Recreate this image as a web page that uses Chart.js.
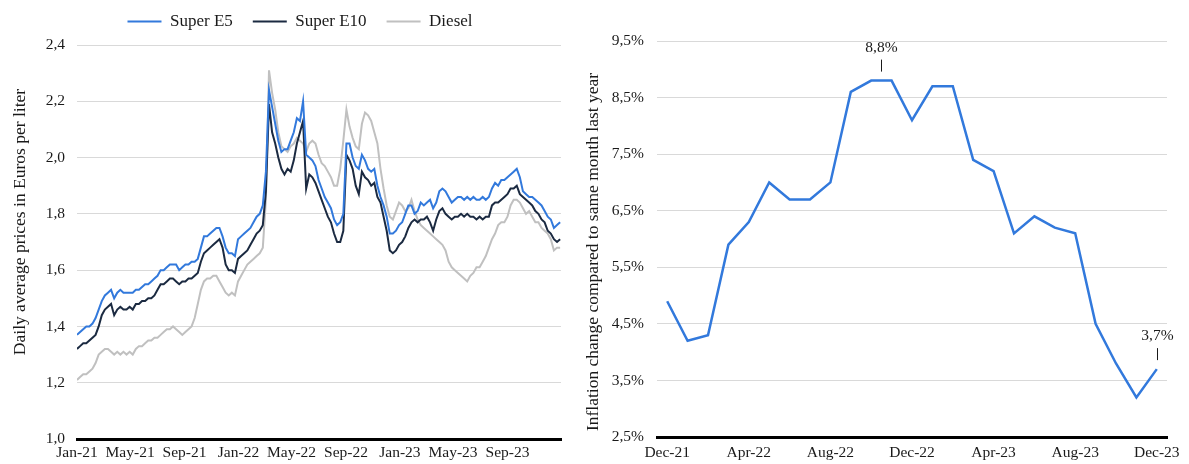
<!DOCTYPE html>
<html>
<head>
<meta charset="utf-8">
<script src="https://cdn.jsdelivr.net/npm/chart.js@4.4.0/dist/chart.umd.min.js"></script>
<style>
  html, body { margin: 0; padding: 0; background: #fff; }
  body { width: 1189px; height: 464px; position: relative; overflow: hidden; }
  #leftBox { position: absolute; left: 0; top: -23px; width: 600px; height: 487px; }
  #rightBox { position: absolute; left: 578px; top: 0; width: 611px; height: 464px; }
</style>
</head>
<body>
<div id="leftBox"><canvas id="chartPrecios" width="600" height="487"></canvas></div>
<div id="rightBox"><canvas id="chartInflacion" width="611" height="464"></canvas></div>
<script>
// weekly averages, first week of Jan 2021 to end of Dec 2023 (Euro per liter)
const e5Prices = [
    1.37, 1.38, 1.39, 1.40, 1.40, 1.41, 1.43, 1.46, 1.49, 1.51,
    1.52, 1.53, 1.50, 1.52, 1.53, 1.52, 1.52, 1.52, 1.52, 1.53,
    1.53, 1.54, 1.55, 1.55, 1.56, 1.57, 1.58, 1.60, 1.60, 1.61,
    1.62, 1.62, 1.62, 1.60, 1.61, 1.62, 1.62, 1.63, 1.63, 1.64,
    1.68, 1.72, 1.72, 1.73, 1.74, 1.75, 1.75, 1.72, 1.68, 1.66,
    1.66, 1.65, 1.71, 1.72, 1.73, 1.74, 1.75, 1.77, 1.79, 1.80,
    1.83, 1.95, 2.24, 2.18, 2.12, 2.06, 2.02, 2.03, 2.03, 2.06,
    2.09, 2.14, 2.13, 2.20, 2.01, 2.00, 1.99, 1.97, 1.92, 1.89,
    1.86, 1.84, 1.82, 1.78, 1.76, 1.77, 1.80, 2.05, 2.05, 2.00,
    1.97, 1.96, 2.01, 1.99, 1.96, 1.95, 1.96, 1.90, 1.86, 1.83,
    1.79, 1.73, 1.73, 1.74, 1.76, 1.77, 1.80, 1.83, 1.83, 1.80,
    1.81, 1.84, 1.83, 1.84, 1.85, 1.82, 1.84, 1.88, 1.89, 1.88,
    1.86, 1.84, 1.85, 1.86, 1.86, 1.85, 1.86, 1.85, 1.86, 1.85,
    1.85, 1.86, 1.85, 1.86, 1.89, 1.91, 1.90, 1.92, 1.92, 1.93,
    1.94, 1.95, 1.96, 1.93, 1.88, 1.87, 1.86, 1.86, 1.85, 1.84,
    1.83, 1.81, 1.79, 1.78, 1.75, 1.76, 1.77
];
const e10Prices = [
    1.32, 1.33, 1.34, 1.34, 1.35, 1.36, 1.37, 1.40, 1.44, 1.46,
    1.47, 1.48, 1.44, 1.46, 1.47, 1.46, 1.46, 1.47, 1.46, 1.48,
    1.48, 1.49, 1.49, 1.50, 1.50, 1.51, 1.53, 1.55, 1.55, 1.56,
    1.57, 1.57, 1.56, 1.55, 1.56, 1.56, 1.57, 1.57, 1.58, 1.59,
    1.63, 1.66, 1.67, 1.68, 1.69, 1.70, 1.71, 1.68, 1.62, 1.60,
    1.60, 1.59, 1.64, 1.65, 1.66, 1.67, 1.69, 1.71, 1.73, 1.74,
    1.76, 1.88, 2.19, 2.09, 2.05, 2.00, 1.96, 1.94, 1.96, 1.95,
    1.99, 2.05, 2.09, 2.13, 1.89, 1.94, 1.93, 1.91, 1.88, 1.85,
    1.82, 1.79, 1.77, 1.73, 1.70, 1.70, 1.74, 2.01, 1.99, 1.96,
    1.90, 1.87, 1.95, 1.93, 1.92, 1.90, 1.91, 1.86, 1.84, 1.79,
    1.74, 1.67, 1.66, 1.67, 1.69, 1.70, 1.72, 1.75, 1.77, 1.78,
    1.77, 1.78, 1.78, 1.79, 1.77, 1.74, 1.78, 1.81, 1.82, 1.80,
    1.79, 1.78, 1.79, 1.79, 1.80, 1.79, 1.80, 1.79, 1.79, 1.78,
    1.79, 1.78, 1.79, 1.79, 1.83, 1.84, 1.84, 1.85, 1.86, 1.87,
    1.89, 1.89, 1.90, 1.87, 1.86, 1.85, 1.84, 1.83, 1.81, 1.80,
    1.78, 1.77, 1.74, 1.73, 1.71, 1.70, 1.71
];
const dieselPrices = [
    1.21, 1.22, 1.23, 1.23, 1.24, 1.25, 1.27, 1.30, 1.31, 1.32,
    1.32, 1.31, 1.30, 1.31, 1.30, 1.31, 1.30, 1.31, 1.30, 1.32,
    1.33, 1.33, 1.34, 1.35, 1.35, 1.36, 1.36, 1.37, 1.38, 1.39,
    1.39, 1.40, 1.39, 1.38, 1.37, 1.38, 1.39, 1.40, 1.43, 1.48,
    1.53, 1.56, 1.57, 1.57, 1.58, 1.58, 1.56, 1.54, 1.52, 1.51,
    1.52, 1.51, 1.56, 1.58, 1.60, 1.62, 1.63, 1.64, 1.65, 1.66,
    1.68, 1.85, 2.31, 2.23, 2.17, 2.09, 2.04, 2.03, 2.02, 2.04,
    2.05, 2.07, 2.06, 2.05, 2.02, 2.05, 2.06, 2.05, 2.01, 1.98,
    1.97, 1.95, 1.93, 1.90, 1.90, 1.96, 2.06, 2.17, 2.11, 2.07,
    2.04, 2.03, 2.12, 2.16, 2.15, 2.13, 2.09, 2.05, 1.96, 1.89,
    1.83, 1.79, 1.78, 1.81, 1.84, 1.83, 1.81, 1.82, 1.85, 1.81,
    1.78, 1.76, 1.75, 1.74, 1.73, 1.72, 1.71, 1.70, 1.69, 1.67,
    1.63, 1.61, 1.60, 1.59, 1.58, 1.57, 1.56, 1.58, 1.59, 1.61,
    1.61, 1.63, 1.65, 1.68, 1.71, 1.73, 1.76, 1.77, 1.77, 1.79,
    1.83, 1.85, 1.85, 1.84, 1.82, 1.80, 1.81, 1.79, 1.77, 1.77,
    1.75, 1.74, 1.73, 1.71, 1.67, 1.68, 1.68
];
// tick marks of the price chart: day since 1 Jan 2021
const priceTickDays = [0, 120, 243, 365, 485, 608, 730, 850, 973];
const priceTickLabels = ['Jan-21', 'May-21', 'Sep-21', 'Jan-22', 'May-22', 'Sep-22', 'Jan-23', 'May-23', 'Sep-23'];

// inflation, change to same month last year (%)
const inflationMonths = [
    'Dec-21', 'Jan-22', 'Feb-22', 'Mar-22', 'Apr-22', 'May-22', 'Jun-22', 'Jul-22', 'Aug-22',
    'Sep-22', 'Oct-22', 'Nov-22', 'Dec-22', 'Jan-23', 'Feb-23', 'Mar-23', 'Apr-23', 'May-23',
    'Jun-23', 'Jul-23', 'Aug-23', 'Sep-23', 'Oct-23', 'Nov-23', 'Dec-23'
];
const inflationRates = [
    4.9, 4.2, 4.3, 5.9, 6.3, 7.0, 6.7, 6.7, 7.0,
    8.6, 8.8, 8.8, 8.1, 8.7, 8.7, 7.4, 7.2, 6.1,
    6.4, 6.2, 6.1, 4.5, 3.8, 3.2, 3.7
];

const serif = "'Liberation Serif', 'Times New Roman', serif";
const textColor = '#1a1a1a';
const gridColor = '#d9d9d9';
const blue = '#3279dc';

const comma = (v, d) => v.toFixed(d).replace('.', ',');

// Titulo del eje y, dibujado a mano para poder ubicarlo
const yTitlePlugin = {
    id: 'yTitle',
    afterDraw(chart, args, opts) {
        const ctx = chart.ctx;
        ctx.save();
        ctx.translate(opts.x, opts.y);
        ctx.rotate(-Math.PI / 2);
        ctx.font = '17.5px ' + serif;
        ctx.fillStyle = textColor;
        ctx.textAlign = 'center';
        ctx.textBaseline = 'middle';
        ctx.fillText(opts.text, 0, 0);
        ctx.restore();
    }
};

// espacio extra debajo de la leyenda
const legendGapPlugin = {
    id: 'legendGap',
    beforeLayout(chart, args, opts) {
        const legend = chart.legend;
        if (legend && !legend._gapPatched) {
            const fit = legend.fit;
            legend.fit = function () {
                fit.call(this);
                this.height += opts.extra;
            };
            legend._gapPatched = true;
        }
    }
};

// etiquetas del maximo y del ultimo valor
const calloutPlugin = {
    id: 'callouts',
    afterDatasetsDraw(chart) {
        const meta = chart.getDatasetMeta(0);
        const ctx = chart.ctx;
        const maxVal = Math.max(...inflationRates);
        const maxIdx = inflationRates.map((v, i) => v === maxVal ? i : -1).filter(i => i >= 0);
        const spots = [maxIdx, [inflationRates.length - 1]];
        ctx.save();
        ctx.font = '15.5px ' + serif;
        ctx.fillStyle = textColor;
        ctx.strokeStyle = textColor;
        ctx.lineWidth = 1;
        ctx.textAlign = 'center';
        ctx.textBaseline = 'middle';
        spots.forEach(idxs => {
            const first = meta.data[idxs[0]];
            const last = meta.data[idxs[idxs.length - 1]];
            const x = Math.round((first.x + last.x) / 2) + 0.5;
            const y = first.y;
            ctx.beginPath();
            ctx.moveTo(x, y - 21);
            ctx.lineTo(x, y - 9);
            ctx.stroke();
            ctx.fillText(comma(inflationRates[idxs[0]], 1) + '%', x, y - 33);
        });
        ctx.restore();
    }
};

const weekDays = e5Prices.map((_, i) => i * 7);
const toPoints = arr => arr.map((v, i) => ({ x: weekDays[i], y: v }));

// === 1. Precios diarios ===
new Chart(document.getElementById('chartPrecios'), {
    type: 'line',
    data: {
        datasets: [
            { label: 'Super E5', data: toPoints(e5Prices), borderColor: blue, backgroundColor: blue, borderWidth: 2 },
            { label: 'Super E10', data: toPoints(e10Prices), borderColor: '#1b2a41', backgroundColor: '#1b2a41', borderWidth: 2 },
            { label: 'Diesel', data: toPoints(dieselPrices), borderColor: '#c0c0c0', backgroundColor: '#c0c0c0', borderWidth: 2 }
        ]
    },
    options: {
        responsive: false,
        animation: false,
        elements: { point: { radius: 0 }, line: { tension: 0 } },
        layout: { padding: { left: 39, right: 39, top: 16, bottom: 0 } },
        plugins: {
            legend: {
                position: 'top',
                labels: {
                    usePointStyle: true,
                    pointStyle: 'line',
                    pointStyleWidth: 34,
                    padding: 20,
                    color: textColor,
                    font: { family: serif, size: 17 }
                }
            },
            legendGap: { extra: 5 },
            tooltip: { enabled: false },
            yTitle: { text: 'Daily average prices in Euros per liter', x: 20, y: 245 }
        },
        scales: {
            x: {
                type: 'linear',
                min: 0,
                max: 1094,
                grid: { display: false, drawTicks: false },
                border: { color: '#000', width: 3 },
                afterBuildTicks: axis => { axis.ticks = priceTickDays.map(v => ({ value: v })); },
                afterFit: s => { s.height = 25; },
                ticks: {
                    autoSkip: false,
                    maxRotation: 0,
                    padding: 5,
                    color: textColor,
                    font: { family: serif, size: 15.5 },
                    callback: (v, i) => priceTickLabels[i]
                }
            },
            y: {
                min: 1.0,
                max: 2.4,
                afterFit: s => { s.width = 38; },
                border: { display: false },
                grid: { color: gridColor, drawTicks: false },
                ticks: {
                    stepSize: 0.2,
                    padding: 12,
                    color: textColor,
                    font: { family: serif, size: 15.5 },
                    callback: v => comma(v, 1)
                }
            }
        }
    },
    plugins: [legendGapPlugin, yTitlePlugin]
});

// === 2. Inflacion mensual ===
new Chart(document.getElementById('chartInflacion'), {
    type: 'line',
    data: {
        labels: inflationMonths,
        datasets: [{
            label: 'Inflation',
            data: inflationRates,
            borderColor: blue,
            borderWidth: 2.5,
            pointRadius: 0,
            tension: 0
        }]
    },
    options: {
        responsive: false,
        animation: false,
        layout: { padding: { left: 0, right: 22, top: 41, bottom: 0 } },
        plugins: {
            legend: { display: false },
            tooltip: { enabled: false },
            yTitle: { text: 'Inflation change compared to same month last year', x: 15, y: 252 }
        },
        scales: {
            x: {
                offset: true,
                grid: { display: false, drawTicks: false },
                border: { color: '#000', width: 3 },
                afterFit: s => { s.height = 27; },
                ticks: {
                    autoSkip: false,
                    maxRotation: 0,
                    padding: 7,
                    color: textColor,
                    font: { family: serif, size: 15.5 },
                    callback: (v, i) => i % 4 === 0 ? inflationMonths[i] : ''
                }
            },
            y: {
                min: 2.5,
                max: 9.5,
                afterFit: s => { s.width = 79; },
                border: { display: false },
                grid: { color: gridColor, drawTicks: false },
                ticks: {
                    stepSize: 1,
                    padding: 13,
                    color: textColor,
                    font: { family: serif, size: 15.5 },
                    callback: v => comma(v, 1) + '%'
                }
            }
        }
    },
    plugins: [yTitlePlugin, calloutPlugin]
});
</script>
</body>
</html>
